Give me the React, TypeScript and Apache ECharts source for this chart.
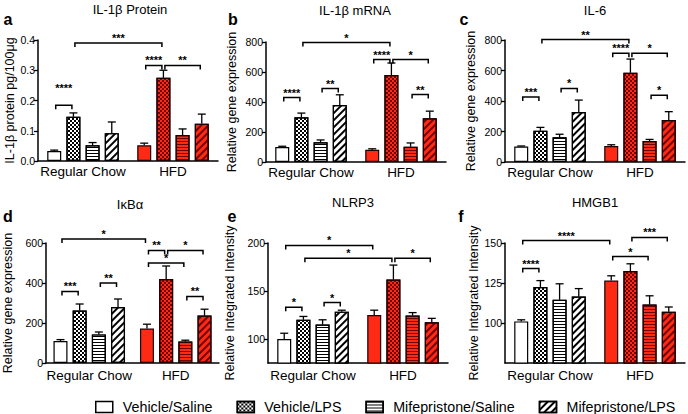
import React, { useEffect, useRef } from 'react';
import * as echarts from 'echarts';

const categories = ['Regular Chow', 'HFD'];
const groups = ['Vehicle/Saline', 'Vehicle/LPS', 'Mifepristone/Saline', 'Mifepristone/LPS'];

// order: [RC VS, RC VL, RC MS, RC ML, HFD VS, HFD VL, HFD MS, HFD ML]
const il1bProteinMean = [0.033, 0.146, 0.052, 0.092, 0.052, 0.275, 0.086, 0.123];
const il1bProteinErr = [0.003, 0.013, 0.009, 0.037, 0.007, 0.025, 0.02, 0.032];
const il1bMrnaMean = [100, 298, 132, 380, 82, 580, 102, 292];
const il1bMrnaErr = [5, 28, 15, 68, 6, 80, 25, 47];
const il6Mean = [102, 205, 162, 328, 105, 585, 138, 275];
const il6Err = [3, 22, 20, 78, 8, 90, 10, 55];
const ikbaMean = [110, 262, 143, 280, 172, 420, 107, 237];
const ikbaErr = [7, 33, 12, 40, 22, 65, 7, 32];
const nlrp3Mean = [100, 120, 115, 128.5, 125, 162, 124.5, 117.5];
const nlrp3Err = [6, 3.5, 5, 1.5, 5, 15, 3, 4];
const hmgb1Mean = [101, 122.5, 114.5, 116.5, 126.5, 132.5, 111.5, 107];
const hmgb1Err = [1, 4, 10, 5, 3, 4.5, 5.5, 3];

// significance brackets: [fromBar, toBar, yValue, stars, optional star y value]
type Sig = [number, number, number, string, number?];
const il1bProteinSig: Sig[] = [[0, 1, 0.184, '****', 0.24], [1, 5, 0.39, '***'], [4, 5, 0.316, '****'], [5, 7, 0.316, '**']];
const il1bMrnaSig: Sig[] = [[0, 1, 430, '****'], [2, 3, 490, '**'], [1, 5, 796, '*'], [4, 5, 683, '****'], [5, 7, 683, '*'], [6, 7, 450, '**']];
const il6Sig: Sig[] = [[0, 1, 427, '***'], [2, 3, 482, '*'], [1, 5, 803, '**'], [4, 5, 713, '****'], [5, 7, 713, '*'], [6, 7, 438, '*']];
const ikbaSig: Sig[] = [[0, 4, 620, '*'], [4, 5, 563, '**'], [5, 7, 563, '*'], [4, 6, 500, '*'], [0, 1, 358, '***'], [2, 3, 400, '**'], [6, 7, 333, '**']];
const nlrp3Sig: Sig[] = [[0, 4, 197.5, '*'], [1, 5, 184, '*'], [5, 7, 184, '*'], [0, 1, 133, '*'], [2, 3, 138, '*']];
const hmgb1Sig: Sig[] = [[0, 4, 151.5, '****'], [0, 1, 134, '****'], [4, 6, 141.5, '*'], [5, 7, 153.5, '***']];

const il1bProteinTicks = [0, 0.1, 0.2, 0.3, 0.4];
const il1bMrnaTicks = [0, 200, 400, 600, 800];
const il6Ticks = [0, 200, 400, 600, 800];
const ikbaTicks = [0, 200, 400, 600];
const nlrp3Ticks = [100, 150, 200];
const hmgb1Ticks = [100, 125, 150];

const FONT = '"Liberation Sans", Arial, Helvetica, sans-serif';
const RED = '#ff2a14';
const DARK_RED = '#700000';
const BAR_W = 14;
const BAR_GAP = 0.37;
const STEP = BAR_W * (1 + BAR_GAP);

const decals: any[] = [
  null,
  { symbol: 'rect', symbolSize: 1, dashArrayX: [[2, 2], [0, 2, 2, 0]], dashArrayY: [2, 0] },
  { symbol: 'rect', symbolSize: 1, dashArrayX: [1, 0], dashArrayY: [1, 2] },
  { symbol: 'rect', symbolSize: 1, dashArrayX: [1, 0], dashArrayY: [1.5, 2.5], rotation: -Math.PI / 4 },
];

const panels = [
  { letter: 'a', title: 'IL-1β Protein', yName: 'IL-1β protein pg/100μg', mean: il1bProteinMean, err: il1bProteinErr, sig: il1bProteinSig, ticks: il1bProteinTicks, min: 0, max: 0.4, dec: 1,
    grid: { left: 38, top: 40, width: 180, height: 121 }, nameGap: 22, titleXY: [130, 9], letterXY: [8, 19], labelMargin: 3 },
  { letter: 'b', title: 'IL-1β mRNA', yName: 'Relative gene expression', mean: il1bMrnaMean, err: il1bMrnaErr, sig: il1bMrnaSig, ticks: il1bMrnaTicks, min: 0, max: 800, dec: 0,
    grid: { left: 266, top: 42, width: 180, height: 120 }, nameGap: 28, titleXY: [355, 10], letterXY: [233, 19], labelMargin: 3 },
  { letter: 'c', title: 'IL-6', yName: 'Relative gene expression', mean: il6Mean, err: il6Err, sig: il6Sig, ticks: il6Ticks, min: 0, max: 800, dec: 0,
    grid: { left: 505, top: 40, width: 180, height: 122 }, nameGap: 28, titleXY: [595, 10], letterXY: [464, 19], labelMargin: 3 },
  { letter: 'd', title: 'IκBα', yName: 'Relative gene expression', mean: ikbaMean, err: ikbaErr, sig: ikbaSig, ticks: ikbaTicks, min: 0, max: 600, dec: 0,
    grid: { left: 41, top: 243, width: 178, height: 120 }, nameGap: 32, titleXY: [130, 204], letterXY: [8, 216], labelMargin: 5 },
  { letter: 'e', title: 'NLRP3', yName: 'Relative Integrated Intensity', mean: nlrp3Mean, err: nlrp3Err, sig: nlrp3Sig, ticks: nlrp3Ticks, min: 75, max: 200, dec: 0,
    grid: { left: 268, top: 243, width: 180, height: 120 }, nameGap: 32, titleXY: [353, 202], letterXY: [232, 216], labelMargin: 5 },
  { letter: 'f', title: 'HMGB1', yName: 'Relative Integrated Intensity', mean: hmgb1Mean, err: hmgb1Err, sig: hmgb1Sig, ticks: hmgb1Ticks, min: 75, max: 150, dec: 0,
    grid: { left: 505, top: 243, width: 180, height: 120 }, nameGap: 20, titleXY: [595, 202], letterXY: [461, 216], labelMargin: 5 },
];

function buildOption() {
  const grid: any[] = [];
  const xAxis: any[] = [];
  const yAxis: any[] = [];
  const series: any[] = [];
  const graphic: any[] = [];

  panels.forEach((p, pi) => {
    grid.push({ ...p.grid, containLabel: false });
    xAxis.push({
      type: 'category', gridIndex: pi, data: categories,
      axisLine: { onZero: false, lineStyle: { color: '#000', width: 1.5 } },
      axisTick: { alignWithLabel: true, length: 4, lineStyle: { color: '#000', width: 1.3 } },
      axisLabel: { color: '#000', fontSize: 13.5, fontFamily: FONT, margin: p.labelMargin, interval: 0, hideOverlap: false },
      splitLine: { show: false },
    });
    const interval = p.ticks[1] - p.ticks[0];
    yAxis.push({
      type: 'value', gridIndex: pi, min: p.min, max: p.max, interval,
      name: p.yName, nameLocation: 'middle', nameGap: p.nameGap,
      nameTextStyle: { color: '#000', fontSize: 12.5, fontFamily: FONT },
      axisLine: { show: true, lineStyle: { color: '#000', width: 1.5 } },
      axisTick: { show: true, length: 4, lineStyle: { color: '#000', width: 1.3 }, customValues: p.ticks },
      axisLabel: { color: '#000', fontSize: 10.5, fontFamily: FONT, margin: 3, customValues: p.ticks,
        formatter: (v: number) => (p.ticks.some((t) => Math.abs(t - v) < 1e-9) ? v.toFixed(p.dec) : '') },
      splitLine: { show: false },
    });

    groups.forEach((g, k) => {
      const d = decals[k];
      series.push({
        type: 'bar', name: g, xAxisIndex: pi, yAxisIndex: pi,
        barWidth: BAR_W, barGap: `${BAR_GAP * 100}%`,
        itemStyle: { color: '#fff', borderColor: '#000', borderWidth: 1.2, decal: d ? { ...d, color: '#000' } : undefined },
        data: [
          p.mean[k],
          { value: p.mean[4 + k], itemStyle: { color: RED, borderColor: '#1a0000', decal: d ? { ...d, color: DARK_RED } : undefined } },
        ],
        emphasis: { disabled: true },
      });
    });

    // error bars
    series.push({
      type: 'custom', xAxisIndex: pi, yAxisIndex: pi, z: 5, silent: true,
      data: p.mean.map((m, idx) => [idx < 4 ? 0 : 1, m, p.err[idx], idx % 4]),
      encode: { x: 0, y: 1 },
      renderItem: (params: any, api: any) => {
        const cat = api.value(0), mean = api.value(1), err = api.value(2), k = api.value(3);
        const p0 = api.coord([cat, mean]);
        const p1 = api.coord([cat, mean + err]);
        const x = p0[0] + (k - 1.5) * STEP;
        return {
          type: 'group', children: [
            { type: 'line', shape: { x1: x, y1: p0[1], x2: x, y2: p1[1] }, style: { stroke: '#000', lineWidth: 1.3 } },
            { type: 'line', shape: { x1: x - 4, y1: p1[1], x2: x + 4, y2: p1[1] }, style: { stroke: '#000', lineWidth: 1.3 } },
          ],
        };
      },
    });

    // significance brackets
    const sig = p.sig;
    series.push({
      type: 'custom', xAxisIndex: pi, yAxisIndex: pi, z: 6, silent: true, clip: false,
      data: sig.map((b) => [0, b[2]]),
      encode: { x: 0, y: 1 },
      renderItem: (params: any, api: any) => {
        const b = sig[params.dataIndex];
        const [i, j, y, label, ly] = b;
        const xi = api.coord([Math.floor(i / 4), y])[0] + ((i % 4) - 1.5) * STEP + 1.5;
        const xj = api.coord([Math.floor(j / 4), y])[0] + ((j % 4) - 1.5) * STEP - 1.5;
        const py = api.coord([0, y])[1];
        const ty = ly != null ? api.coord([0, ly])[1] : py - 5;
        return {
          type: 'group', children: [
            { type: 'polyline', shape: { points: [[xi, py + 4], [xi, py], [xj, py], [xj, py + 4]] }, style: { stroke: '#000', lineWidth: 1.5, fill: 'none' } },
            { type: 'text', x: (xi + xj) / 2, y: ty, style: { text: label, fill: '#000', fontSize: 11, fontWeight: 'bold', fontFamily: FONT, align: 'center', verticalAlign: 'middle' } },
          ],
        };
      },
    });

    graphic.push({ type: 'text', x: p.titleXY[0], y: p.titleXY[1], style: { text: p.title, fill: '#000', fontSize: 13, fontFamily: FONT, align: 'center', verticalAlign: 'middle' } });
    graphic.push({ type: 'text', x: p.letterXY[0], y: p.letterXY[1], style: { text: p.letter, fill: '#000', fontSize: 16, fontWeight: 'bold', fontFamily: FONT, align: 'center', verticalAlign: 'middle' } });
  });

  return {
    animation: false,
    backgroundColor: '#fff',
    textStyle: { fontFamily: FONT },
    grid, xAxis, yAxis, series, graphic,
    legend: {
      data: groups.map((name) => ({ name, icon: 'rect' })),
      left: 90, top: 395, itemWidth: 17, itemHeight: 11, itemGap: 24,
      selectedMode: false,
      itemStyle: { borderColor: '#000', borderWidth: 1.5 },
      textStyle: { fontSize: 14.3, color: '#000', fontFamily: FONT, padding: [0, 0, 0, 5] },
    },
  };
}

export default function App() {
  const ref = useRef<HTMLDivElement>(null);
  useEffect(() => {
    document.body.style.margin = '0';
    if (!ref.current) return;
    const chart = echarts.init(ref.current, undefined, { renderer: 'svg' });
    chart.setOption(buildOption() as any);
    return () => chart.dispose();
  }, []);
  return <div ref={ref} style={{ position: 'absolute', left: 0, top: 0, width: 688, height: 414 }} />;
}
